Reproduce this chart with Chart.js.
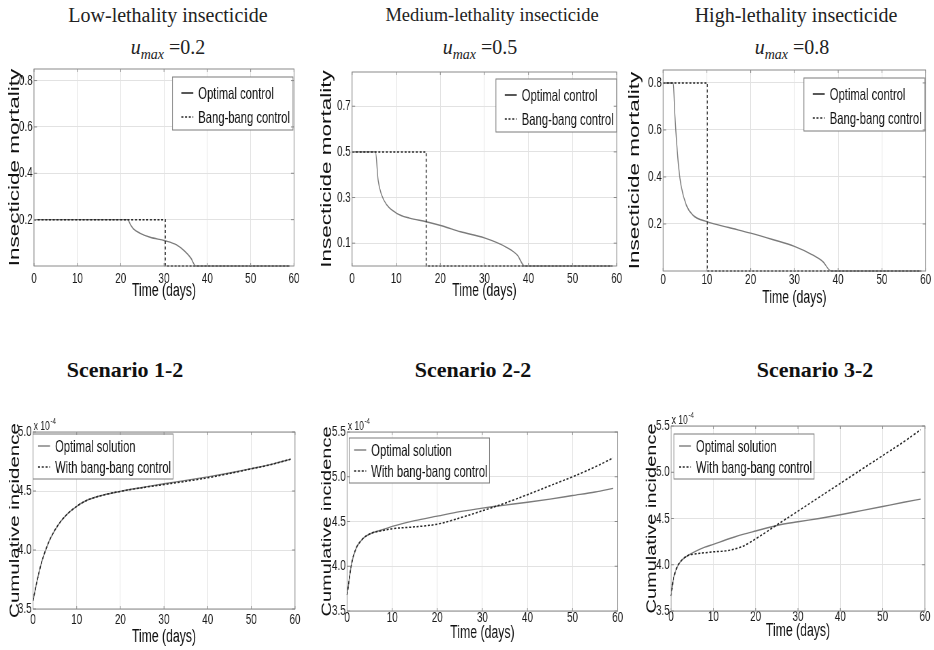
<!DOCTYPE html>
<html>
<head>
<meta charset="utf-8">
<script src="https://cdn.jsdelivr.net/npm/chart.js@4.4.1/dist/chart.umd.min.js"></script>
<style>
  body { margin: 0; background: #fff; }
  #fig { position: relative; width: 934px; height: 650px; overflow: hidden; background: #fff; }
  .ttl { position: absolute; width: 300px; text-align: center; font-family: "Liberation Serif", "Times New Roman", serif;
         font-size: 20px; line-height: 22px; color: #222; white-space: nowrap; }
  .ttl i { font-style: italic; }
  .ttl sub { font-size: 14px; font-style: italic; vertical-align: -5px; line-height: 0; }
  .scn { position: absolute; width: 300px; text-align: center; font-family: "Liberation Serif", "Times New Roman", serif;
         font-size: 22px; font-weight: bold; line-height: 24px; color: #111; }
  .panel { position: absolute; transform-origin: 0 0; }
</style>
</head>
<body>
<div id="fig">
  <div class="ttl" style="left:18px; top:4px">Low-lethality insecticide</div>
  <div class="ttl" style="left:18px; top:36px"><i>u</i><sub>max</sub> =0.2</div>
  <div class="ttl" style="left:342px; top:4px; font-size:18.5px">Medium-lethality insecticide</div>
  <div class="ttl" style="left:330px; top:36px"><i>u</i><sub>max</sub> =0.5</div>
  <div class="ttl" style="left:646px; top:4px">High-lethality insecticide</div>
  <div class="ttl" style="left:642px; top:36px"><i>u</i><sub>max</sub> =0.8</div>

  <div class="scn" style="left:-25px; top:358px">Scenario 1-2</div>
  <div class="scn" style="left:323px; top:358px">Scenario 2-2</div>
  <div class="scn" style="left:665px; top:358px">Scenario 3-2</div>

  <div class="panel" id="p1"><canvas></canvas></div>
  <div class="panel" id="p2"><canvas></canvas></div>
  <div class="panel" id="p3"><canvas></canvas></div>
  <div class="panel" id="p4"><canvas></canvas></div>
  <div class="panel" id="p5"><canvas></canvas></div>
  <div class="panel" id="p6"><canvas></canvas></div>
</div>

<script>
// ---- data ----
const dayTicks = [0, 10, 20, 30, 40, 50, 60];

// top row: insecticide mortality (control u)
const uOpt1X = [0, 21.6, 22.3, 23.0, 24.5, 26.8, 30.2, 32.8, 34.7, 36.2, 37.3, 59];
const uOpt1Y = [0.2, 0.2, 0.177, 0.159, 0.141, 0.124, 0.109, 0.092, 0.065, 0.034, 0, 0];
const uBang1X = [0, 30.3, 30.3, 59];
const uBang1Y = [0.2, 0.2, 0, 0];

const uOpt2X = [0, 5.3, 5.9, 6.7, 7.9, 10.1, 13, 16.8, 20.5, 24.6, 30, 35, 37.5, 39.1, 59];
const uOpt2Y = [0.5, 0.5, 0.376, 0.311, 0.267, 0.231, 0.21, 0.194, 0.175, 0.15, 0.123, 0.082, 0.047, 0, 0];
const uBang2X = [0, 16.8, 16.8, 59];
const uBang2Y = [0.5, 0.5, 0, 0];

const uOpt3X = [0, 2.3, 2.7, 3.1, 3.6, 4.1, 5.3, 6.8, 10, 15, 20, 25, 30, 34, 36.5, 38.4, 59];
const uOpt3Y = [0.8, 0.8, 0.66, 0.545, 0.433, 0.363, 0.28, 0.238, 0.21, 0.185, 0.161, 0.134, 0.105, 0.07, 0.04, 0, 0];
const uBang3X = [0, 10.1, 10.1, 59];
const uBang3Y = [0.8, 0.8, 0, 0];

const uTicks1 = [0.2, 0.4, 0.6, 0.8];
const uTicks2 = [0.1, 0.3, 0.5, 0.7];
const uTicks3 = [0.2, 0.4, 0.6, 0.8];

// bottom row: cumulative incidence (x 10^-4)
const days1 = [0, 1, 2, 3, 4, 6, 8, 10, 12, 15, 20, 25, 30, 35, 40, 45, 50, 55, 59];
const incOpt1 = [3.57, 3.75, 3.9, 4.01, 4.1, 4.225, 4.31, 4.37, 4.415, 4.455, 4.497, 4.53, 4.562, 4.59, 4.62, 4.653, 4.69, 4.73, 4.77];
const incBang1 = [3.57, 3.75, 3.9, 4.01, 4.1, 4.225, 4.31, 4.37, 4.415, 4.455, 4.497, 4.528, 4.555, 4.582, 4.612, 4.648, 4.688, 4.728, 4.77];

const days2 = [0, 1, 2, 3, 4, 5, 6, 8, 10, 15, 20, 25, 30, 33, 35, 40, 45, 50, 55, 59];
const incOpt2 = [3.68, 4.03, 4.2, 4.28, 4.33, 4.36, 4.38, 4.41, 4.445, 4.51, 4.56, 4.61, 4.65, 4.67, 4.683, 4.715, 4.75, 4.79, 4.83, 4.87];
const incBang2 = [3.68, 4.03, 4.2, 4.28, 4.33, 4.36, 4.38, 4.40, 4.42, 4.44, 4.47, 4.54, 4.62, 4.67, 4.705, 4.80, 4.90, 5.00, 5.11, 5.21];

const days3 = [0, 0.5, 1, 1.5, 2, 3, 4, 6, 8, 10, 13, 15, 17, 20, 25, 30, 35, 40, 45, 50, 55, 59];
const incOpt3 = [3.66, 3.83, 3.92, 3.98, 4.02, 4.07, 4.1, 4.15, 4.19, 4.22, 4.27, 4.30, 4.328, 4.365, 4.425, 4.465, 4.50, 4.54, 4.585, 4.63, 4.675, 4.71];
const incBang3 = [3.66, 3.83, 3.92, 3.98, 4.02, 4.07, 4.1, 4.12, 4.13, 4.14, 4.15, 4.17, 4.20, 4.28, 4.43, 4.58, 4.73, 4.88, 5.03, 5.18, 5.33, 5.46];

const incTicks1 = [3.5, 4.0, 4.5, 5.0];
const incTicks2 = [3.5, 4.0, 4.5, 5.0, 5.5];

// ---- look ----
const S = 0.68;            // the original figure is squeezed horizontally
const OPT_COLOR = '#7b7b7b';
const BANG_COLOR = '#262626';
const GRID = '#e2e2e2';
const FONT = '"Liberation Sans", Arial, sans-serif';
Chart.defaults.font.family = FONT;

// screen positions: box = canvas area, plot = axes rectangle
const layouts = {
  p1: { box: [0, 58, 306, 302],    plot: [34, 69, 294, 266],   yTitleX: 15,  xTitleY: 291, tickPad: 4 },
  p2: { box: [312, 58, 626, 302],  plot: [352, 72, 616, 266],  yTitleX: 327, xTitleY: 291, tickPad: 4 },
  p3: { box: [620, 58, 934, 308],  plot: [663, 70, 925, 271],  yTitleX: 635, xTitleY: 298, tickPad: 0 },
  p4: { box: [0, 414, 306, 650],   plot: [33, 432, 295, 609],  yTitleX: 15,  xTitleY: 637, tickPad: 2 },
  p5: { box: [312, 414, 628, 650], plot: [347, 432, 617, 611], yTitleX: 327, xTitleY: 633, tickPad: -2 },
  p6: { box: [630, 408, 934, 650], plot: [671, 426, 925, 611], yTitleX: 652, xTitleY: 631, tickPad: -3 }
};

const toPoints = (xs, ys) => xs.map((x, i) => ({ x: x, y: ys[i] }));

function optSet(label, xs, ys) {
  return { label: label, data: toPoints(xs, ys), borderColor: OPT_COLOR, borderWidth: 1.4,
           pointRadius: 0, cubicInterpolationMode: 'monotone', clip: false, order: 1 };
}
function bangSet(label, xs, ys, smooth) {
  const d = { label: label, data: toPoints(xs, ys), borderColor: BANG_COLOR, borderWidth: 1.5,
              borderDash: [3, 2.5], pointRadius: 0, clip: false, order: 0 };
  if (smooth) d.cubicInterpolationMode = 'monotone';
  return d;
}

// legend box drawn inside the axes, like MATLAB
const insideLegend = {
  id: 'insideLegend',
  afterDatasetsDraw(chart, args, o) {
    if (!o || !o.rows) return;
    const { ctx, chartArea } = chart;
    const sets = chart.data.datasets;
    ctx.save();
    ctx.font = '16.5px ' + FONT;
    const textW = Math.max(...sets.map(d => ctx.measureText(d.label).width));
    const w = o.padL + o.sample + o.gap + textW + o.padR;
    const x = o.align === 'right' ? chartArea.right - o.dx - w : chartArea.left + o.dx;
    const y = chartArea.top + o.dy;
    ctx.fillStyle = '#fff';
    ctx.fillRect(x, y, w, o.height);
    ctx.strokeStyle = '#7a7a7a';
    ctx.lineWidth = 1;
    ctx.strokeRect(x, y, w, o.height);
    sets.forEach((d, i) => {
      const ry = y + o.rows[i];
      ctx.strokeStyle = (o.sampleColors && o.sampleColors[i]) || d.borderColor;
      ctx.lineWidth = d.borderWidth;
      ctx.setLineDash(d.borderDash || []);
      ctx.beginPath();
      ctx.moveTo(x + o.padL, ry);
      ctx.lineTo(x + o.padL + o.sample, ry);
      ctx.stroke();
      ctx.setLineDash([]);
      ctx.fillStyle = '#111';
      ctx.textBaseline = 'middle';
      ctx.fillText(d.label, x + o.padL + o.sample + o.gap, ry + 1);
    });
    ctx.restore();
  }
};

// axes box, small inward tick marks and the "x 10^-4" multiplier
const frame = {
  id: 'frame',
  afterDraw(chart, args, o) {
    const { ctx, chartArea: { left, top, right, bottom } } = chart;
    const xs = chart.scales.x, ys = chart.scales.y;
    ctx.save();
    ctx.strokeStyle = '#8a8a8a';
    ctx.lineWidth = 1;
    ctx.beginPath();
    xs.ticks.forEach(t => {
      const px = xs.getPixelForValue(t.value);
      ctx.moveTo(px, bottom); ctx.lineTo(px, bottom - 3);
      ctx.moveTo(px, top); ctx.lineTo(px, top + 3);
    });
    ys.ticks.forEach(t => {
      const py = ys.getPixelForValue(t.value);
      ctx.moveTo(left, py); ctx.lineTo(left + 3 / S, py);
      ctx.moveTo(right, py); ctx.lineTo(right - 3 / S, py);
    });
    ctx.stroke();
    ctx.strokeRect(left, top, right - left, bottom - top);
    if (o && o.exponent) {
      ctx.fillStyle = '#222';
      ctx.textBaseline = 'alphabetic';
      ctx.font = '12.5px ' + FONT;
      ctx.fillText('x 10', left + 1, top - 2);
      const w = ctx.measureText('x 10').width;
      ctx.font = '9px ' + FONT;
      ctx.fillText('-4', left + 2 + w, top - 8);
    }
    ctx.restore();
  }
};

function buildChart(id, cfg) {
  const lay = layouts[id];
  const [bx0, by0, bx1, by1] = lay.box;
  const [pl, pt, pr, pb] = lay.plot;
  const wrap = document.getElementById(id);
  wrap.style.left = bx0 + 'px';
  wrap.style.top = by0 + 'px';
  wrap.style.width = ((bx1 - bx0) / S) + 'px';
  wrap.style.height = (by1 - by0) + 'px';
  wrap.style.transform = 'scaleX(' + S + ')';

  const yAxisW = (pl - bx0) / S;
  const xAxisH = by1 - pb;
  const xTitleSize = 18;
  const yTitlePad = (lay.yTitleX - bx0) / S - cfg.yTitleSize / 2;
  const xTitlePad = (by1 - lay.xTitleY) - xTitleSize / 2;

  new Chart(wrap.querySelector('canvas'), {
    type: 'line',
    data: { datasets: cfg.datasets },
    options: {
      responsive: true,
      maintainAspectRatio: false,
      animation: false,
      events: [],
      layout: { padding: { left: 0, top: pt - by0, right: (bx1 - pr) / S, bottom: 0 } },
      plugins: {
        legend: { display: false },
        tooltip: { enabled: false },
        insideLegend: cfg.legend,
        frame: { exponent: cfg.exponent }
      },
      scales: {
        x: {
          type: 'linear', min: 0, max: 60,
          afterBuildTicks: s => { s.ticks = dayTicks.map(v => ({ value: v })); },
          afterFit: s => { s.height = xAxisH; },
          grid: { color: GRID, drawTicks: false },
          border: { display: false },
          ticks: { padding: lay.tickPad, color: '#1a1a1a', font: { size: 14.5 }, maxRotation: 0, autoSkip: false,
                   callback: v => String(v) },
          title: { display: true, text: 'Time (days)', color: '#111',
                   font: { size: xTitleSize, lineHeight: 1 }, padding: { top: 0, bottom: xTitlePad } }
        },
        y: {
          type: 'linear', min: cfg.yMin, max: cfg.yMax,
          afterBuildTicks: s => { s.ticks = cfg.yTicks.map(v => ({ value: v })); },
          afterFit: s => { s.width = yAxisW; },
          grid: { color: GRID, drawTicks: false },
          border: { display: false },
          ticks: { padding: 2, color: '#1a1a1a', font: { size: 14.5 }, autoSkip: false,
                   callback: cfg.yFormat },
          title: { display: true, text: cfg.yTitle, color: '#111',
                   font: { size: cfg.yTitleSize, lineHeight: 1 }, padding: { top: yTitlePad, bottom: 0 } }
        }
      }
    },
    plugins: [insideLegend, frame]
  });
}

const topLegend = { align: 'right', dy: 8, height: 53, rows: [16, 40], padL: 13, sample: 17.6, gap: 7.4, padR: 4.4,
                    sampleColors: ['#111', null] };
const botLegend = { align: 'left', height: 45, rows: [12, 33], padL: 7.4, sample: 17.6, gap: 7.4, padR: 3 };
const oneDecimal = v => v.toFixed(1);
const plain = v => String(v);

buildChart('p1', {
  datasets: [optSet('Optimal control', uOpt1X, uOpt1Y), bangSet('Bang-bang control', uBang1X, uBang1Y)],
  yMin: 0, yMax: 0.85, yTicks: uTicks1, yFormat: plain,
  yTitle: 'Insecticide mortality', yTitleSize: 22.5,
  legend: Object.assign({}, topLegend, { dx: 1.5 })
});
buildChart('p2', {
  datasets: [optSet('Optimal control', uOpt2X, uOpt2Y), bangSet('Bang-bang control', uBang2X, uBang2Y)],
  yMin: 0, yMax: 0.85, yTicks: uTicks2, yFormat: plain,
  yTitle: 'Insecticide mortality', yTitleSize: 22.5,
  legend: Object.assign({}, topLegend, { dx: 0, dy: 7 })
});
buildChart('p3', {
  datasets: [optSet('Optimal control', uOpt3X, uOpt3Y), bangSet('Bang-bang control', uBang3X, uBang3Y)],
  yMin: 0, yMax: 0.855, yTicks: uTicks3, yFormat: plain,
  yTitle: 'Insecticide mortality', yTitleSize: 22.5,
  legend: Object.assign({}, topLegend, { dx: 1.5 })
});
buildChart('p4', {
  datasets: [optSet('Optimal solution', days1, incOpt1), bangSet('With bang-bang control', days1, incBang1, true)],
  yMin: 3.5, yMax: 5.0, yTicks: incTicks1, yFormat: oneDecimal,
  yTitle: 'Cumulative incidence', yTitleSize: 20.5, exponent: true,
  legend: Object.assign({}, botLegend, { dx: 0, dy: 2 })
});
buildChart('p5', {
  datasets: [optSet('Optimal solution', days2, incOpt2), bangSet('With bang-bang control', days2, incBang2, true)],
  yMin: 3.5, yMax: 5.5, yTicks: incTicks2, yFormat: oneDecimal,
  yTitle: 'Cumulative incidence', yTitleSize: 20, exponent: true,
  legend: Object.assign({}, botLegend, { dx: 3, dy: 6 })
});
buildChart('p6', {
  datasets: [optSet('Optimal solution', days3, incOpt3), bangSet('With bang-bang control', days3, incBang3, true)],
  yMin: 3.5, yMax: 5.5, yTicks: incTicks2, yFormat: oneDecimal,
  yTitle: 'Cumulative incidence', yTitleSize: 20, exponent: true,
  legend: Object.assign({}, botLegend, { dx: 4.4, dy: 8 })
});
</script>
</body>
</html>
